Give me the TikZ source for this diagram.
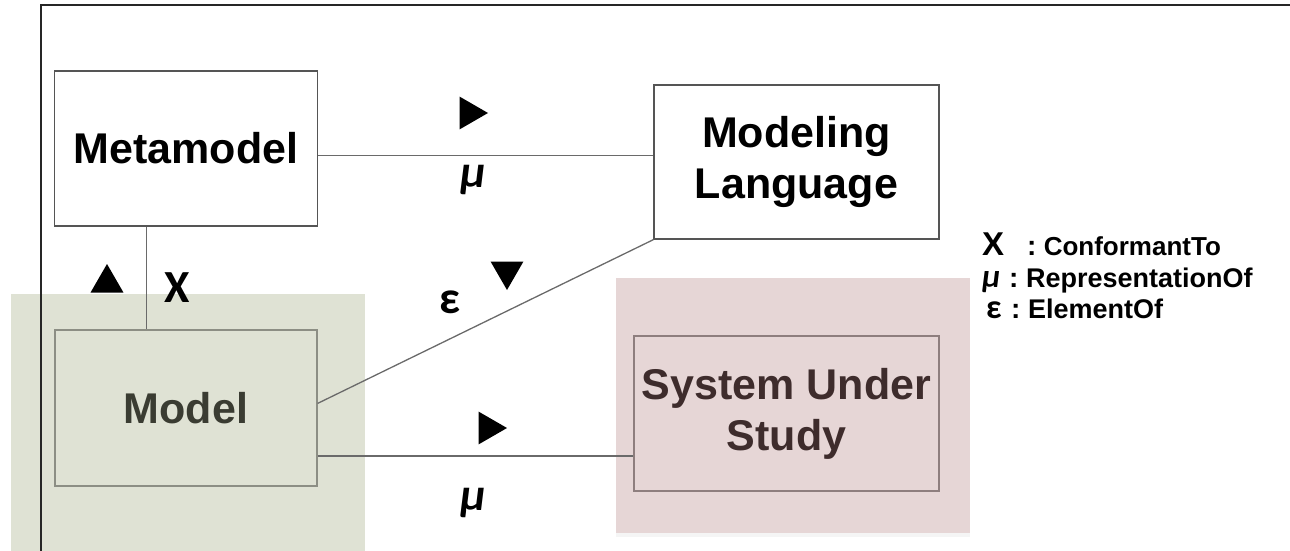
\documentclass[tikz,border=0pt]{standalone}
\usepackage{fontspec}
\setmainfont{Liberation Sans}
\newfontfamily\calfont{Carlito}
\usetikzlibrary{shapes.geometric,shadows}
\definecolor{sagebg}{HTML}{DFE2D4}
\definecolor{sageline}{HTML}{8C8E84}
\definecolor{sagetext}{HTML}{3A3C32}
\definecolor{rosebg}{HTML}{E6D6D6}
\definecolor{roseline}{HTML}{8E7E7E}
\definecolor{rosetext}{HTML}{3E2C2C}
\definecolor{boxgray}{HTML}{555555}
\definecolor{linkgray}{HTML}{6A6A6A}
\newcommand{\keycolon}{{\fontsize{28}{28}\selectfont :}\ }
\begin{document}
\begin{tikzpicture}[x=1pt,y=-1pt]
        \tikzstyle{box}=[draw=boxgray, line width=1.3pt, align=center, inner sep=0pt, font=\fontsize{43}{51}\selectfont\bfseries]
        \tikzstyle{link}=[draw=linkgray, line width=1.3pt]
        \tikzstyle{tri}=[regular polygon, regular polygon sides=3, fill=black, inner sep=0pt, minimum size=38pt]
        \tikzstyle{sym}=[inner sep=0pt, font=\fontsize{46}{46}\selectfont\calfont\bfseries]
        \tikzstyle{keysym}=[anchor=base west, inner sep=0pt, font=\fontsize{33}{33}\selectfont\bfseries]
        \tikzstyle{keytext}=[anchor=base west, inner sep=0pt, font=\fontsize{26}{26}\selectfont\bfseries]
        \useasboundingbox (0,0) rectangle (1290,551);
        % coloured backgrounds
        \fill[sagebg] (11,294) rectangle (365,560);
        \fill[rosebg, drop shadow={shadow xshift=0pt, shadow yshift=-4pt, opacity=0.08}] (616,278) rectangle (970,533);
        \draw[line width=2pt, black!85] (1290,5) -- (41,5) -- (41,560);
        % boxes
        \node[box, minimum width=263pt, minimum height=155pt] (meta) at (186,148.5) {Metamodel};
        \node[box, minimum width=285pt, minimum height=154pt] (lang) at (796.5,162) {Modeling\\Language};
        \node[box, draw=sageline, text=sagetext, minimum width=262pt, minimum height=156pt] (model) at (186,408) {Model};
        \node[box, draw=roseline, text=rosetext, minimum width=305pt, minimum height=155pt] (sus) at (786.5,413.5) {System Under\\Study};
        % connectors
        \draw[link] (meta.-3.7) -- (meta.-3.7 -| lang.west);
        \draw[link] (meta.-117.9) -- (meta.-117.9 |- model.north);
        \draw[link] (model.2) -- (lang.south west);
        \draw[link] (model.-20.9) -- (model.-20.9 -| sus.west);
        % labels
        \node[tri, rotate=-90] (dirmu1) at (469,113) {};
        \node[sym] (mu1) at (473,180) {\itshape μ};
        \node[tri, rotate=180] (direps) at (507,271) {};
        \node[sym] (eps) at (450,302) {ε};
        \node[tri] (dirchi) at (107,283) {};
        \node[sym] (chi) at (177,288) {X};
        \node[tri, rotate=-90] (dirmu2) at (488,428) {};
        \node[sym] (mu2) at (473,503) {\itshape μ};
        % key
        \node[keysym] (keychi) at (982,255) {X};
        \node[keytext] (keyconf) at (1027,255) {\keycolon ConformantTo};
        \node[keysym, font=\fontsize{33}{33}\selectfont\calfont\bfseries\itshape] (keymu) at (982,287) {μ};
        \node[keytext, font=\fontsize{27}{27}\selectfont\bfseries] (keyrep) at (1009,287) {\keycolon RepresentationOf};
        \node[keysym, font=\fontsize{34}{34}\selectfont\calfont\bfseries] (keyeps) at (986,318) {ε};
        \node[keytext, font=\fontsize{27}{27}\selectfont\bfseries] (keyelem) at (1011,318) {\keycolon ElementOf};
\end{tikzpicture}
\end{document}
